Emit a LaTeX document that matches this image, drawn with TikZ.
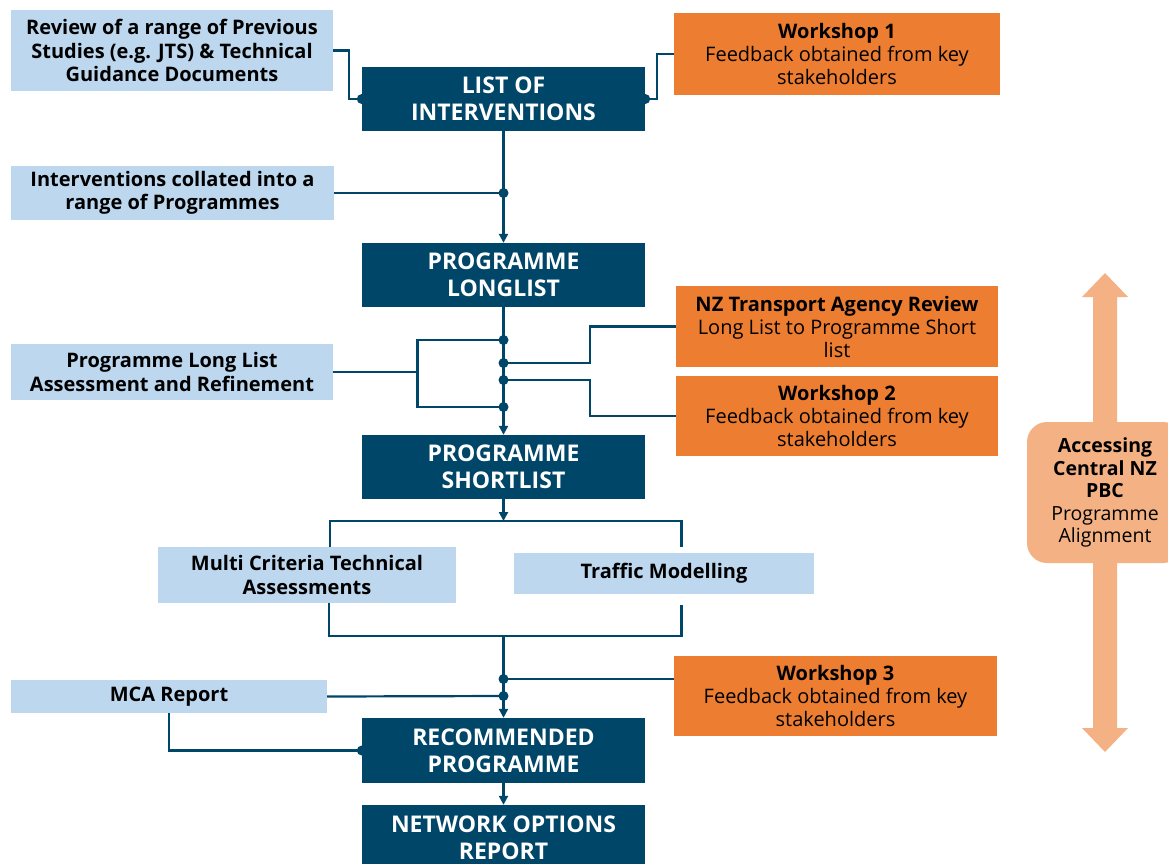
\documentclass[tikz,border=0pt]{standalone}
\usepackage{fontspec}
\setmainfont{Open Sans}
\usetikzlibrary{arrows.meta}
\definecolor{navy}{HTML}{004669}
\definecolor{paleblue}{HTML}{BCD7EE}
\definecolor{workorange}{HTML}{ED7D31}
\definecolor{peach}{HTML}{F4B183}
\begin{document}
\begin{tikzpicture}[x=1pt,y=-1pt,
  box/.style={inner sep=0pt, align=center, anchor=center},
  darkbox/.style={box, fill=navy, text=white, minimum width=283pt, minimum height=64pt,
    font=\bfseries\fontsize{23}{27}\selectfont},
  lightbox/.style={box, fill=paleblue, text=black, font=\bfseries\fontsize{20}{23.5}\selectfont},
  orangebox/.style={box, fill=workorange, text=black, font=\fontsize{20}{23}\selectfont},
  link/.style={draw=navy, line width=2.2pt},
  flow/.style={link, -{Triangle[width=9pt,length=9pt]}},
]
\useasboundingbox (0,0) rectangle (1168,863);
\clip (0,0) rectangle (1168,863);

% side alignment arrow and its label
\fill[peach] (1105,273) -- (1128,297) -- (1117,297) -- (1117,728) -- (1128,728)
  -- (1105,752) -- (1082,728) -- (1093,728) -- (1093,297) -- (1082,297) -- cycle;
\node[box, fill=peach, rounded corners=20pt, minimum width=156pt, minimum height=141pt,
  font=\fontsize{19.5}{22.5}\selectfont] (pbc) at (1105,492.5)
  {\textbf{Accessing}\\\textbf{Central NZ}\\\textbf{PBC}\\Programme\\Alignment};

% main stages
\node[darkbox] (loi) at (503.5,99) {LIST OF\\INTERVENTIONS};
\node[darkbox] (pll) at (503.5,275) {PROGRAMME\\LONGLIST};
\node[darkbox] (psl) at (503.5,467) {PROGRAMME\\SHORTLIST};
\node[darkbox, minimum height=65pt] (rec) at (503.5,750.5) {RECOMMENDED\\PROGRAMME};
\node[darkbox, minimum height=65pt] (nor) at (503.5,837.5) {NETWORK OPTIONS\\REPORT};

% inputs
\node[lightbox, minimum width=322pt, minimum height=81pt] (rev) at (172,50.5)
  {Review of a range of Previous\\Studies (e.g. JTS) \& Technical\\Guidance Documents};
\node[lightbox, minimum width=323pt, minimum height=54pt] (coll) at (172.5,193)
  {Interventions collated into a\\range of Programmes};
\node[lightbox, minimum width=322pt, minimum height=56pt] (plla) at (172,372)
  {Programme Long List\\Assessment and Refinement};
\node[lightbox, minimum width=298pt, minimum height=56pt] (mcta) at (307,575)
  {Multi Criteria Technical\\Assessments};
\node[lightbox, minimum width=300pt, minimum height=41pt] (traf) at (664,573.5)
  {Traffic Modelling};
\node[lightbox, minimum width=316pt, minimum height=33pt] (mca) at (169,696.5)
  {MCA Report};

% reviews and workshops
\node[orangebox, minimum width=326pt, minimum height=82pt] (ws1) at (837,54)
  {\textbf{Workshop 1}\\Feedback obtained from key\\stakeholders};
\node[orangebox, minimum width=322pt, minimum height=81pt] (nzta) at (837,326.5)
  {\textbf{NZ Transport Agency Review}\\Long List to Programme Short\\list};
\node[orangebox, minimum width=322pt, minimum height=80pt] (ws2) at (837,416)
  {\textbf{Workshop 2}\\Feedback obtained from key\\stakeholders};
\node[orangebox, minimum width=323pt, minimum height=80pt] (ws3) at (835.5,696)
  {\textbf{Workshop 3}\\Feedback obtained from key\\stakeholders};

% junction points on the main spine
\coordinate (jcoll) at (loi.south |- coll.east);
\coordinate (ja) at (503.5,340);
\coordinate (jb) at (503.5,363);
\coordinate (jc) at (503.5,380);
\coordinate (jd) at (503.5,407);
\coordinate (split) at (503.5,521);
\coordinate (merge) at (503.5,636);
\coordinate (jws3) at (503.5,679);
\coordinate (jmca) at (503.5,696);

% connectors
\draw[link] (rev.east) -- ++(16,0) |- (loi.west);
\draw[link] (loi.east) -- ++(12,0) |- (ws1.west);
\draw[flow] (loi.south) -- (pll.north);
\draw[link] (coll.east) -- (jcoll);

\draw[flow] (pll.south) -- (psl.north);
\draw[link] (ja) -- ++(-86,0) |- (jd);
\draw[link] (plla.east) -- (418,372);
\draw[link] (nzta.west) -- ++(-86,0) |- (jb);
\draw[link] (ws2.west) -- ++(-86,0) |- (jc);

\draw[flow] (psl.south) -- (split);
\draw[link] (330,547) |- (split) -| (681.5,547);
\draw[link] (329,603) |- (merge) -| (681.5,605);
\draw[flow] (merge) -- (rec.north);
\draw[link] (ws3.west |- jws3) -- (jws3);
\draw[link] (mca.east) -- (jmca);
\draw[link] (mca.south) |- (rec.west);
\draw[flow] (rec.south) -- (nor.north);

% junction dots
\foreach \p in {loi.west, loi.east, jcoll, ja, jb, jc, jd, jws3, jmca, rec.west}
  \fill[navy] (\p) circle (5pt);
\end{tikzpicture}
\end{document}
